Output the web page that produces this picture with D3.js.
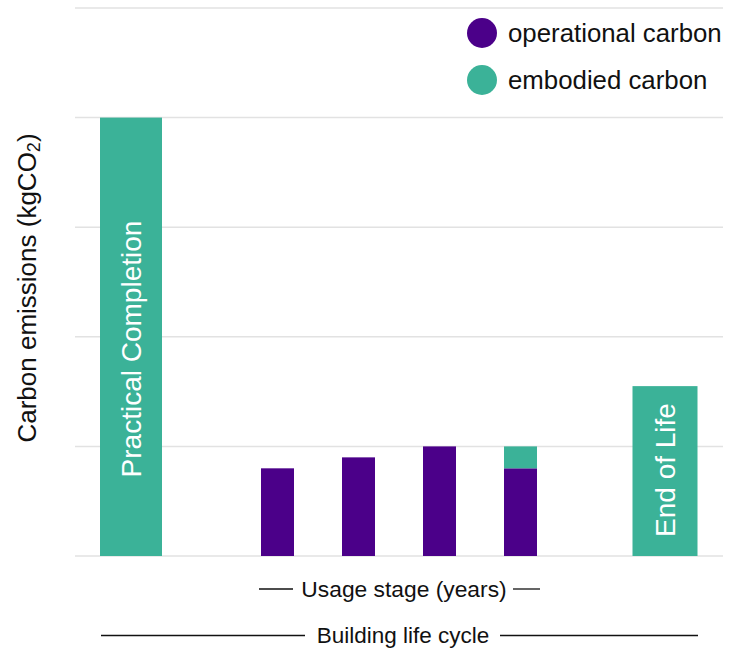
<!DOCTYPE html>
<html>
<head>
<meta charset="utf-8">
<script src="https://cdn.jsdelivr.net/npm/d3@7"></script>
<style>
  html, body { margin: 0; padding: 0; background: #fff; }
  svg { display: block; font-family: "Liberation Sans", Arial, sans-serif; }
</style>
</head>
<body>
<svg id="chart" width="729" height="650"></svg>
<script>
// Life-cycle stages along the x axis
const stages = ["Practical Completion", "Usage stage", "End of Life"];
// Years within the usage stage
const usageYears = ["Year 1", "Year 2", "Year 3", "Year 4"];
// Carbon emitted in each usage year (gridline units)
const operationalCarbon = [0.8, 0.9, 1.0, 0.8];
const embodiedCarbonUsage = [0, 0, 0, 0.2];
// Embodied carbon at the two ends of the life cycle
const stageEmbodied = [4, null, 1.55];
// Gridline values
const gridTicks = [0, 1, 2, 3, 4, 5];
// Legend entries
const legendLabels = ["operational carbon", "embodied carbon"];

const TEAL = "#3bb298";
const PURPLE = "#4b0089";

const svg = d3.select("#chart");

const y = d3.scaleLinear().domain([0, 5]).range([556, 8]);
const xStage = d3.scalePoint().domain(stages).range([131, 665]);
const xYear = d3.scalePoint().domain(usageYears)
  .range([xStage("Usage stage") - 120.5, xStage("Usage stage") + 122.5]);

// Horizontal gridlines
svg.append("g")
  .selectAll("line")
  .data(gridTicks)
  .join("line")
  .attr("x1", 75).attr("x2", 723)
  .attr("y1", d => y(d)).attr("y2", d => y(d))
  .attr("stroke", "#e2e2e2")
  .attr("stroke-width", 1.5);

// Stage bars (embodied carbon at completion and end of life)
const stageWidths = { "Practical Completion": 62, "End of Life": 65 };
const stageBars = stages.map((s, i) => ({ stage: s, value: stageEmbodied[i] }))
  .filter(d => d.value != null);

svg.append("g")
  .selectAll("rect")
  .data(stageBars)
  .join("rect")
  .attr("x", d => xStage(d.stage) - stageWidths[d.stage] / 2)
  .attr("width", d => stageWidths[d.stage])
  .attr("y", d => y(d.value))
  .attr("height", d => y(0) - y(d.value))
  .attr("fill", TEAL);

// Stage names written up inside the bars
svg.append("g")
  .selectAll("text")
  .data(stageBars)
  .join("text")
  .attr("transform", d => `translate(${xStage(d.stage) + 10},${d.stage === "End of Life" ? 470 : 349}) rotate(-90)`)
  .attr("text-anchor", "middle")
  .attr("fill", "#fff")
  .attr("font-size", 28)
  .text(d => d.stage);

// Usage-stage stacked bars
const usageStack = usageYears.map((yr, i) => ({
  year: yr, operational: operationalCarbon[i], embodied: embodiedCarbonUsage[i]
}));
const stacked = d3.stack().keys(["operational", "embodied"])(usageStack);
const usageBarWidth = 33;

svg.append("g")
  .selectAll("g")
  .data(stacked)
  .join("g")
  .attr("fill", d => d.key === "operational" ? PURPLE : TEAL)
  .selectAll("rect")
  .data(d => d.filter(s => s[1] - s[0] > 0))
  .join("rect")
  .attr("x", d => xYear(d.data.year) - usageBarWidth / 2)
  .attr("width", usageBarWidth)
  .attr("y", d => y(d[1]))
  .attr("height", d => y(d[0]) - y(d[1]));

// Y-axis title
const yTitle = svg.append("text")
  .attr("transform", "translate(36,288) rotate(-90)")
  .attr("text-anchor", "middle")
  .attr("font-size", 26)
  .attr("fill", "#111");
yTitle.append("tspan").text("Carbon emissions (kgCO");
yTitle.append("tspan").attr("font-size", 18).attr("dy", 4).text("2");
yTitle.append("tspan").attr("dy", -4).text(")");

// Legend
const legend = svg.append("g")
  .selectAll("g")
  .data(legendLabels)
  .join("g")
  .attr("transform", (d, i) => `translate(482,${33 + i * 47})`);
legend.append("circle")
  .attr("r", 15)
  .attr("fill", (d, i) => i === 0 ? PURPLE : TEAL);
legend.append("text")
  .attr("x", 26)
  .attr("y", 9)
  .attr("font-size", 25.8)
  .attr("fill", "#111")
  .text(d => d);

// Bracket labels under the axis
function bracketLabel(text, cx, baseline, lineY, left, right, size) {
  const g = svg.append("g");
  g.append("text")
    .attr("x", cx).attr("y", baseline)
    .attr("text-anchor", "middle")
    .attr("font-size", size)
    .attr("fill", "#111")
    .text(text);
  g.selectAll("line")
    .data([left, right])
    .join("line")
    .attr("x1", d => d[0]).attr("x2", d => d[1])
    .attr("y1", lineY).attr("y2", lineY)
    .attr("stroke", "#111")
    .attr("stroke-width", 1.3);
}
bracketLabel("Usage stage (years)", 404, 597, 589, [259, 293], [513, 540], 22.8);
bracketLabel("Building life cycle", 403, 643, 635.5, [101, 305], [500, 698], 22.5);
</script>
</body>
</html>
